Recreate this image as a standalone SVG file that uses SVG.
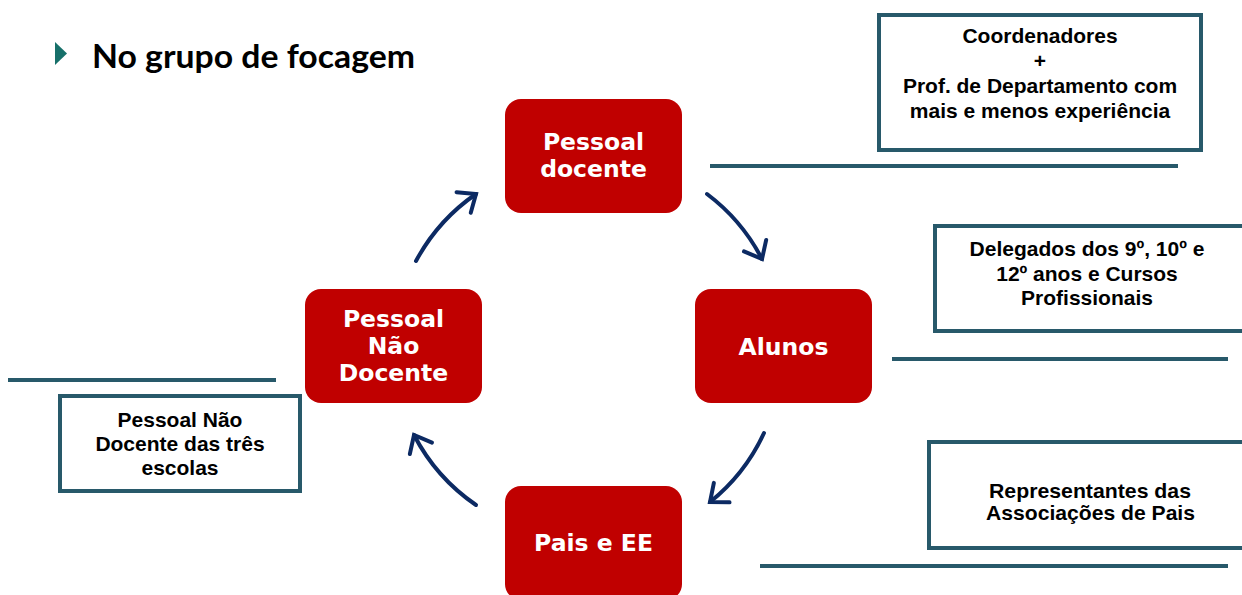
<svg xmlns="http://www.w3.org/2000/svg" width="1242" height="595" viewBox="0 0 1242 595">
<style>
.node rect{fill:#c00000;}
.node text{font-family:"DejaVu Sans",Verdana,sans-serif;font-weight:bold;font-size:23.5px;fill:#fff;text-anchor:middle;}
.note rect{fill:#fff;stroke:#28596a;stroke-width:4;}
.note text{font-family:"Liberation Sans",Arial,sans-serif;font-weight:bold;font-size:21px;fill:#000;text-anchor:middle;}
.rule{stroke:#28596a;stroke-width:4;}
.arc{fill:none;stroke:#0c2a63;stroke-width:4;stroke-linecap:round;marker-end:url(#chev);}
</style>
<defs>
<marker id="chev" markerUnits="userSpaceOnUse" viewBox="-20 -20 40 40" markerWidth="40" markerHeight="40" refX="0" refY="0" orient="auto" overflow="visible">
<path d="M-15,-12.5 L0,0 L-15,12.5" fill="none" stroke="#0c2a63" stroke-width="4" stroke-linecap="round" stroke-linejoin="miter"/>
</marker>
</defs>
<rect width="1242" height="595" fill="#fff"/>
<g id="title">
<polygon points="55,42 67,53.5 55,65" fill="#17706a"/>
<text x="92" y="68" font-family="Lato,'Open Sans',sans-serif" font-weight="bold" font-size="32" textLength="323" lengthAdjust="spacingAndGlyphs" fill="#000">No grupo de focagem</text>
</g>
<g id="connectors">
<path class="arc" d="M416,261 A192,192 0 0 1 476,194"/>
<path class="arc" d="M707,194 A192,192 0 0 1 762,259"/>
<path class="arc" d="M764,433 A192,192 0 0 1 710,502"/>
<path class="arc" d="M476,505 A192,192 0 0 1 414,435"/>
</g>
<g id="rules">
<line class="rule" x1="710" y1="166" x2="1178" y2="166"/>
<line class="rule" x1="892" y1="359" x2="1228" y2="359"/>
<line class="rule" x1="760" y1="566" x2="1228" y2="566"/>
<line class="rule" x1="8" y1="380" x2="276" y2="380"/>
</g>
<g id="node-docente" class="node">
<rect x="505" y="99" width="177" height="114" rx="16"/>
<text x="593.5" y="150">Pessoal</text>
<text x="593.5" y="177">docente</text>
</g>
<g id="node-nao-docente" class="node">
<rect x="305" y="289" width="177" height="114" rx="16"/>
<text x="393.5" y="326.5">Pessoal</text>
<text x="393.5" y="353.5">Não</text>
<text x="393.5" y="380.5">Docente</text>
</g>
<g id="node-alunos" class="node">
<rect x="695" y="289" width="177" height="114" rx="16"/>
<text x="783.5" y="355">Alunos</text>
</g>
<g id="node-pais" class="node">
<rect x="505" y="486" width="177" height="114" rx="16"/>
<text x="593.5" y="551">Pais e EE</text>
</g>
<g id="note-docente" class="note">
<rect x="879" y="15" width="322" height="135"/>
<text x="1040" y="43">Coordenadores</text>
<text x="1040" y="68">+</text>
<text x="1040" y="93">Prof. de Departamento com</text>
<text x="1040" y="118">mais e menos experiência</text>
</g>
<g id="note-alunos" class="note">
<rect x="935" y="226" width="320" height="105"/>
<text x="1087" y="256">Delegados dos 9º, 10º e</text>
<text x="1087" y="280.5">12º anos e Cursos</text>
<text x="1087" y="305">Profissionais</text>
</g>
<g id="note-pais" class="note">
<rect x="929" y="442" width="330" height="106"/>
<text x="1090" y="498" font-size="24" textLength="202" lengthAdjust="spacingAndGlyphs">Representantes das</text>
<text x="1090.5" y="520" font-size="24" textLength="209" lengthAdjust="spacingAndGlyphs">Associações de Pais</text>
</g>
<g id="note-nao-docente" class="note">
<rect x="60" y="396" width="240" height="95"/>
<text x="180" y="427">Pessoal Não</text>
<text x="180" y="451">Docente das três</text>
<text x="180" y="475">escolas</text>
</g>
</svg>
